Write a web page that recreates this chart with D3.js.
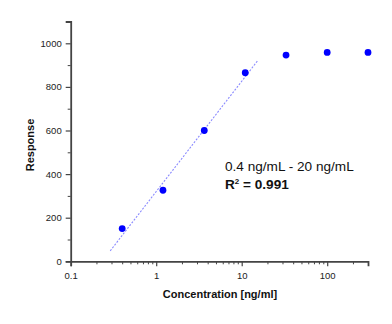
<!DOCTYPE html>
<html><head><meta charset="utf-8">
<script src="https://cdn.jsdelivr.net/npm/d3@7"></script>
<style>body{margin:0;background:#fff}svg{display:block}</style>
</head><body>
<script>
const concentration = [0.4, 1.2, 3.65, 11, 33, 100, 300];
const response = [150, 326, 600, 865, 946, 958, 958];
const fitX = [0.29, 15.5];
const fitY = [48, 922];
const xTickValues = [0.1, 1, 10, 100];
const xTickLabels = ["0.1", "1", "10", "100"];
const yTickValues = [0, 200, 400, 600, 800, 1000];
const rangeLabel = "0.4 ng/mL - 20 ng/mL";
const r2Label = "0.991";

const W = 392, H = 324;
const svg = d3.select("body").append("svg").attr("width", W).attr("height", H);
const font = "'Liberation Sans', Arial, sans-serif";

const x = d3.scaleLog().domain([0.1, 300]).range([70.7, 368]);
const y = d3.scaleLinear().domain([0, 1100]).range([261.3, 21.5]);

const axisColor = "#444";

// minor ticks x
const xMinor = [];
for (let d = 0.1; d < 300; d *= 10) for (let k = 2; k <= 9; k++) { const v = d * k; if (v <= 300) xMinor.push(v); }
const gx = svg.append("g").attr("transform", `translate(0,${y(0)})`);
gx.call(d3.axisBottom(x).tickValues(xMinor).tickSize(3).tickFormat(""))
  .call(g => g.select(".domain").remove())
  .call(g => g.selectAll("line").attr("stroke", axisColor).attr("stroke-width", 1));
gx.call(g => g.append("g").call(d3.axisBottom(x).tickValues(xTickValues).tickSize(5).tickPadding(6)
    .tickFormat((d, i) => xTickLabels[i]))
  .call(a => a.select(".domain").attr("stroke", axisColor).attr("stroke-width", 1.8))
  .call(a => a.selectAll("line").attr("stroke", axisColor).attr("stroke-width", 1.2))
  .call(a => a.selectAll("text").attr("fill", "#222").style("font", `9.5px ${font}`)));

// y axis
const yMinor = d3.range(100, 1101, 200);
const gy = svg.append("g").attr("transform", `translate(${x(0.1)},0)`);
gy.call(d3.axisLeft(y).tickValues(yMinor).tickSize(3).tickFormat(""))
  .call(g => g.select(".domain").remove())
  .call(g => g.selectAll("line").attr("stroke", axisColor).attr("stroke-width", 1));
gy.append("g").call(d3.axisLeft(y).tickValues(yTickValues).tickSize(5).tickPadding(4).tickFormat(d3.format("d")))
  .call(a => a.select(".domain").attr("stroke", axisColor).attr("stroke-width", 1.8))
  .call(a => a.selectAll("line").attr("stroke", axisColor).attr("stroke-width", 1.2))
  .call(a => a.selectAll("text").attr("fill", "#222").style("font", `9.5px ${font}`));

// fit line
svg.append("line")
  .attr("x1", x(fitX[0])).attr("y1", y(fitY[0]))
  .attr("x2", x(fitX[1])).attr("y2", y(fitY[1]))
  .attr("stroke", "#8a8aff").attr("stroke-width", 1.1).attr("stroke-dasharray", "2,1.5");

// points
svg.selectAll("circle.pt").data(concentration).join("circle")
  .attr("class", "pt")
  .attr("cx", d => x(d)).attr("cy", (d, i) => y(response[i]))
  .attr("r", 3.4).attr("fill", "#0000ff");

// axis titles
svg.append("text").attr("x", 220).attr("y", 297.5).attr("text-anchor", "middle")
  .style("font", `bold 11px ${font}`).attr("fill", "#111").text("Concentration [ng/ml]");
svg.append("text").attr("transform", "translate(34,145) rotate(-90)").attr("text-anchor", "middle")
  .style("font", `bold 11px ${font}`).attr("fill", "#111").text("Response");

// annotations
svg.append("text").attr("x", 225).attr("y", 170.5)
  .style("font", `13.6px ${font}`).attr("fill", "#111").text(rangeLabel);
const t2 = svg.append("text").attr("x", 225).attr("y", 188.5)
  .style("font", `bold 13.6px ${font}`).attr("fill", "#111");
t2.append("tspan").text("R");
t2.append("tspan").attr("dy", -5).style("font-size", "8px").text("2");
t2.append("tspan").attr("dy", 5).text(" = " + r2Label);
</script>
</body></html>
